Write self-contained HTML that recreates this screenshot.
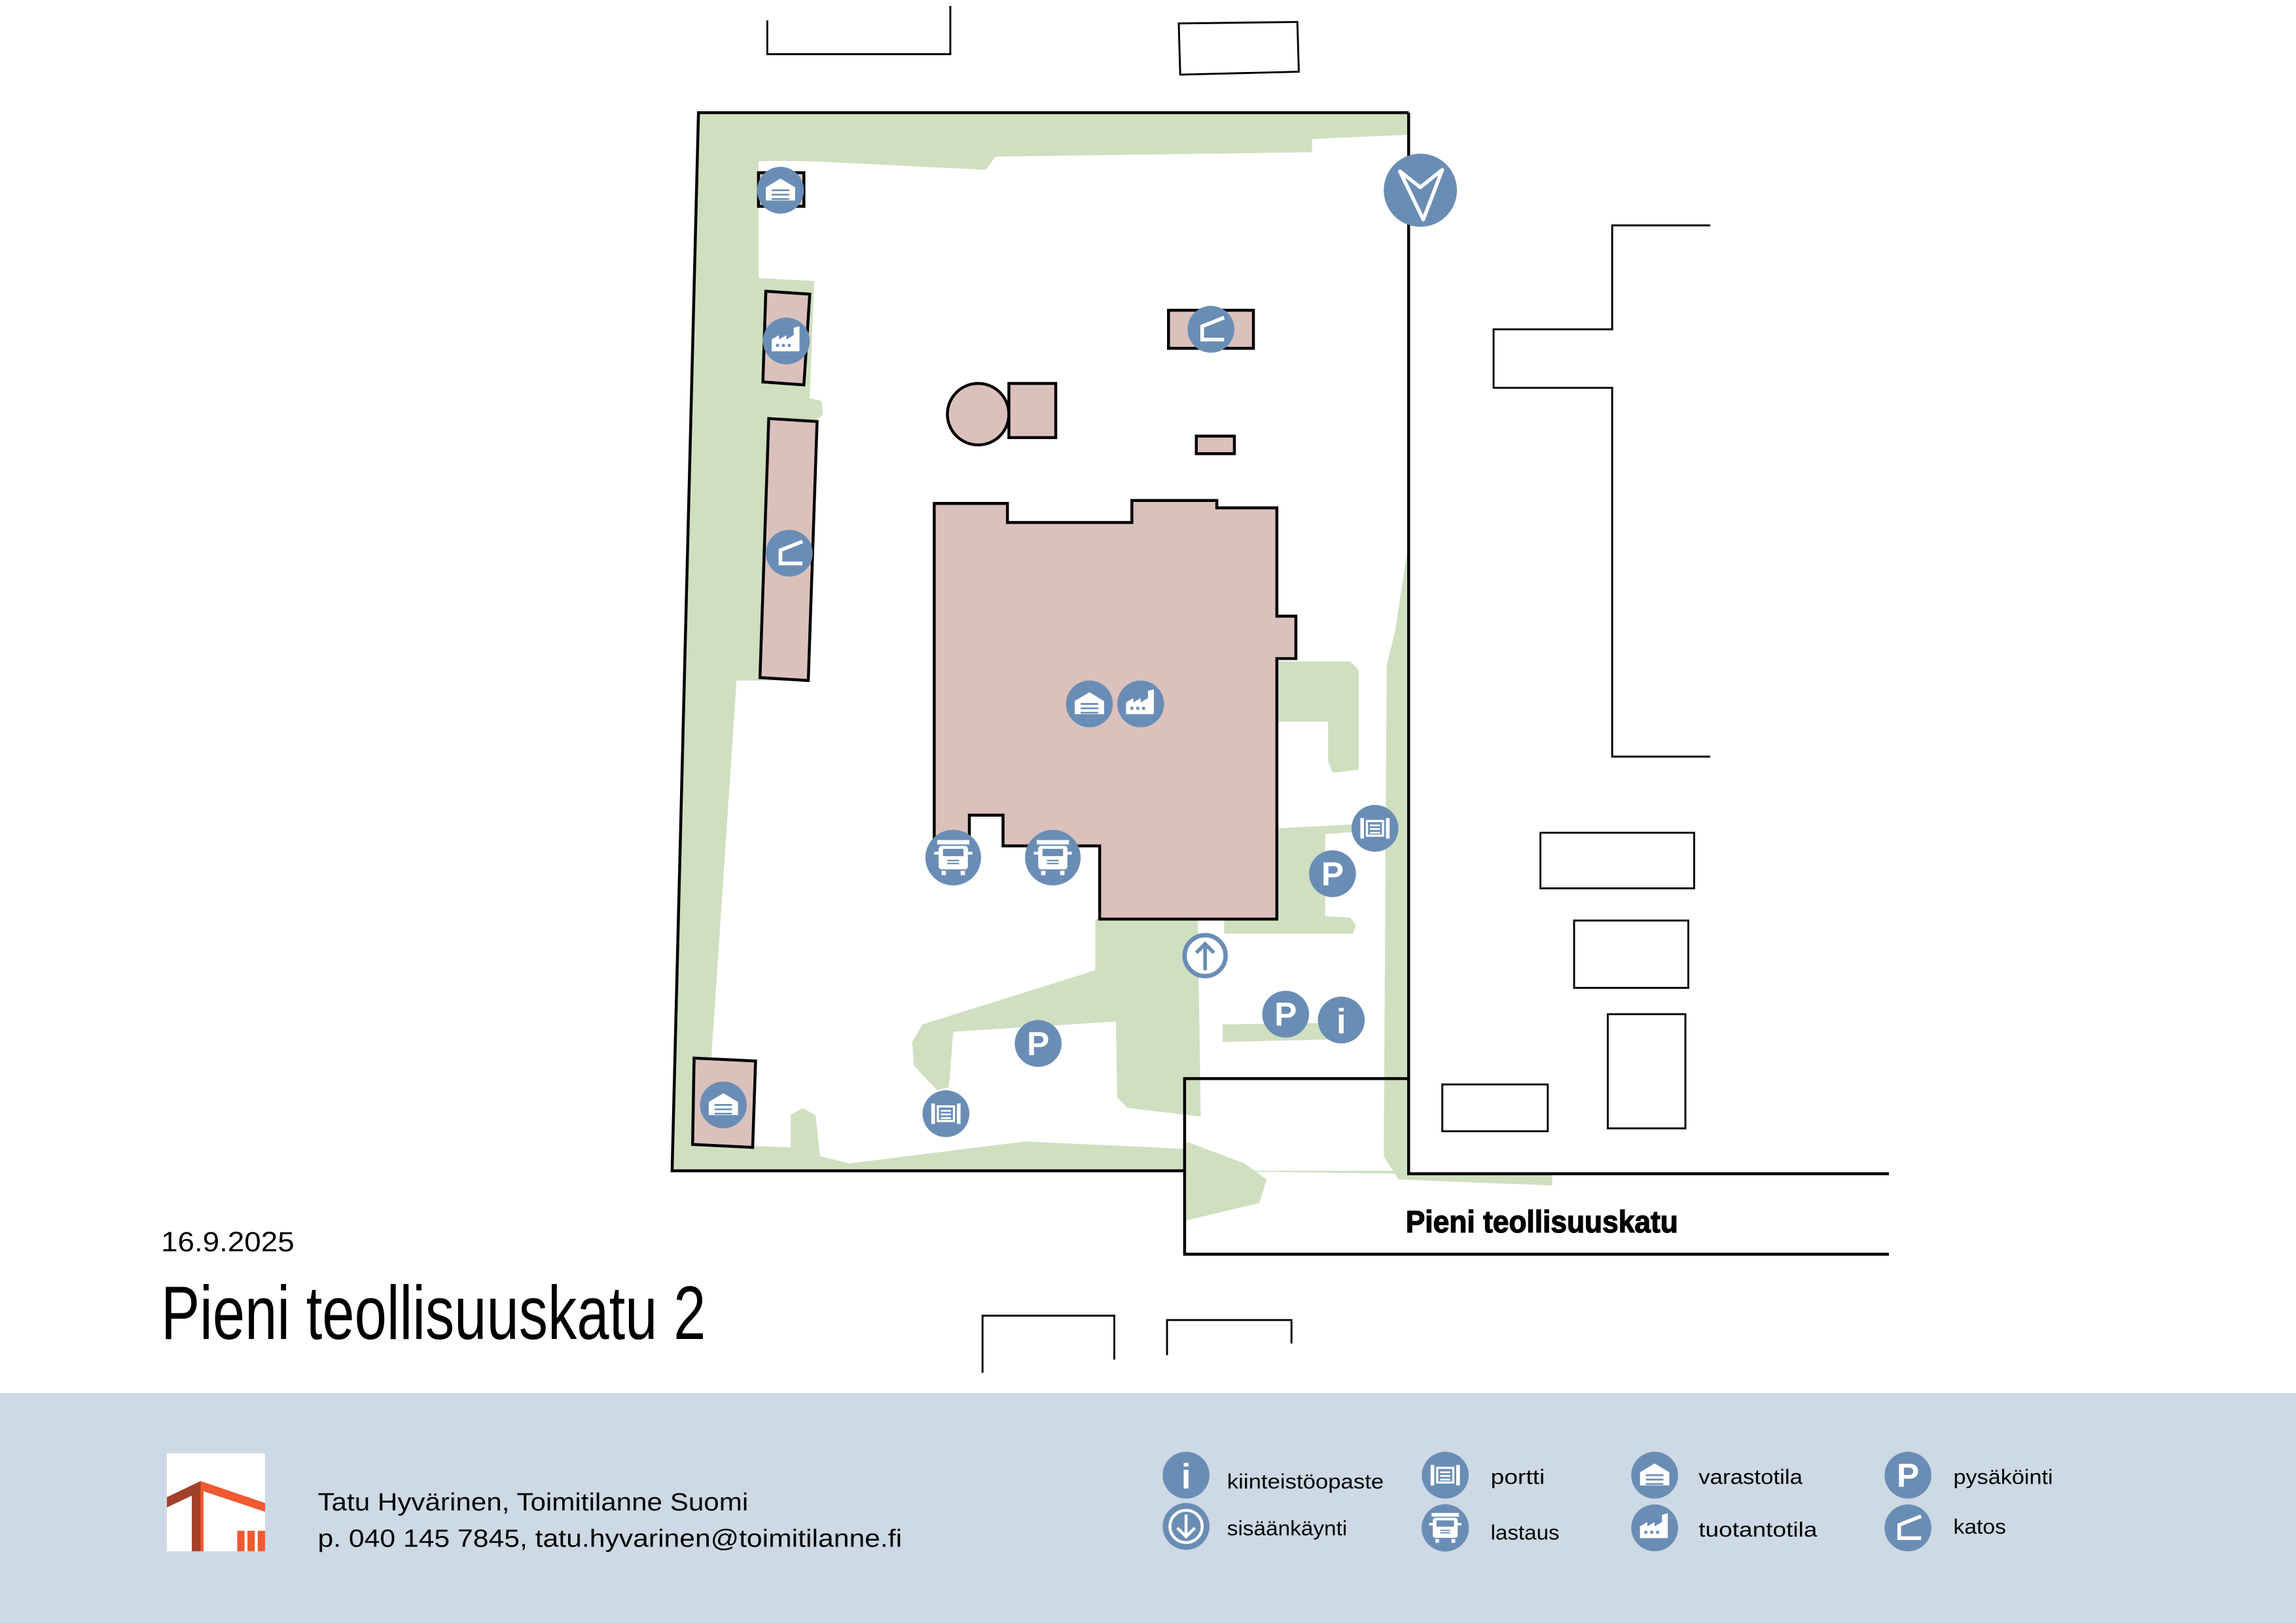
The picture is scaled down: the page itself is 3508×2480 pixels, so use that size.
<!DOCTYPE html>
<html><head><meta charset="utf-8"><style>
html,body{margin:0;padding:0;background:#fff;}
svg{display:block;}
text{font-family:"Liberation Sans",sans-serif;}
</style></head><body>
<svg width="3508" height="2480" viewBox="0 0 1568 1109" preserveAspectRatio="none" xmlns="http://www.w3.org/2000/svg">
<defs>
<g id="ware"><circle r="16" fill="#6a8db5"/><path d="M-10,7 L-10,-2 L0,-8 L10,-2 L10,7 Z" fill="#fff"/><g stroke="#6a8db5" stroke-width="1.2"><line x1="-6" y1="0" x2="6" y2="0"/><line x1="-6" y1="3" x2="6" y2="3"/><line x1="-6" y1="6" x2="6" y2="6"/></g></g>
<g id="fact"><circle r="16" fill="#6a8db5"/><path d="M-10,7 L-10,-1 L-5,-4 L-5,-1 L0,-4 L0,-1 L5,-4 L5,-9 L9,-10 L9,7 Z" fill="#fff"/><g fill="#6a8db5"><rect x="-7" y="2" width="2" height="2"/><rect x="-3" y="2" width="2" height="2"/><rect x="1" y="2" width="2" height="2"/></g></g>
<g id="katos"><circle r="16" fill="#6a8db5"/><path d="M9,-8 L-6,-2 L-6,7 L9,7" fill="none" stroke="#fff" stroke-width="2.5"/></g>
<g id="truck"><circle r="19" fill="#6a8db5"/><rect x="-11" y="-12" width="22" height="3" fill="#fff"/><rect x="-10" y="-8" width="20" height="16" rx="2" fill="#fff"/><rect x="-7" y="-6" width="14" height="5" fill="#6a8db5"/><g stroke="#6a8db5" stroke-width="1"><line x1="-4" y1="2" x2="4" y2="2"/><line x1="-4" y1="4" x2="4" y2="4"/></g><rect x="-8" y="9" width="3" height="3" fill="#fff"/><rect x="5" y="9" width="3" height="3" fill="#fff"/><rect x="-13" y="-4" width="3" height="2" fill="#fff"/><rect x="10" y="-4" width="3" height="2" fill="#fff"/></g>
<g id="gate"><circle r="16" fill="#6a8db5"/><g fill="#fff"><rect x="-10" y="-7" width="2.5" height="14"/><rect x="7.5" y="-7" width="2.5" height="14"/></g><rect x="-5.5" y="-5" width="11" height="10" fill="none" stroke="#fff" stroke-width="1.5"/><g stroke="#fff" stroke-width="1.2"><line x1="-3.5" y1="-2" x2="3.5" y2="-2"/><line x1="-3.5" y1="0.5" x2="3.5" y2="0.5"/><line x1="-3.5" y1="3" x2="3.5" y2="3"/></g></g>
<g id="park"><circle r="16" fill="#6a8db5"/><text x="0" y="8" text-anchor="middle" font-size="23" font-weight="bold" fill="#fff">P</text></g>
<g id="info"><circle r="16" fill="#6a8db5"/><text x="0" y="9" text-anchor="middle" font-size="24" font-weight="bold" fill="#fff">i</text></g>
</defs>

<rect x="0" y="952" width="1568" height="157" fill="#cdd9e4"/>

<polygon points="477,77 962,77 962,802 809,800 459,800" fill="#cfdfc0"/>
<polygon points="518,110 550,110 673,116 680,107 896,104 896,95 962,92 962,800 809,800 809,785 700,780 580,795 560,790 557,762 548,757 540,762 540,784 516,783 486,781 485,735 503,465 553,465 558,287 562,283 561,274 553,272 556,192 518,190" fill="#fff"/>
<polygon points="962,370 953,430 947,455 945,790 955,806 1060,810 1060,802 962,802" fill="#cfdfc0"/>
<polygon points="872,452 922,452 928,458 928,526 910,528 907,520 907,493 872,493" fill="#cfdfc0"/>
<polygon points="872,566 930,563 930,568 905,570 905,626 922,627 926,632 924,638 836,638 836,628 872,628" fill="#cfdfc0"/>
<polygon points="748,628 818,628 820,763 770,757 763,750 762,698 651,705 648,743 640,745 624,728 623,712 630,700 748,663" fill="#cfdfc0"/>
<polygon points="835,700 905,699 918,710 835,712" fill="#cfdfc0"/>
<polygon points="810,780 850,795 865,806 860,822 810,834" fill="#cfdfc0"/>

<g fill="none" stroke="#000" stroke-width="2">
<polyline points="962,77 477,77 459,800 809,800"/>
<polyline points="962,77 962,802 1290,802"/>
<polyline points="962,737 809,737 809,857 1290,857"/>
</g>
<g fill="none" stroke="#000" stroke-width="1.3">
<polyline points="524,14 524,37 649,37 649,4"/>
<polygon points="805,16 886,15 887,49 806,51"/>
<polyline points="1168,154 1101,154 1101,225 1020,225 1020,265 1101,265 1101,517 1168,517"/>
<rect x="1052" y="569" width="105" height="38"/>
<rect x="1075" y="629" width="78" height="46"/>
<rect x="1098" y="693" width="53" height="78"/>
<rect x="985" y="741" width="72" height="32"/>
<polyline points="671,938 671,899 761,899 761,929"/>
<polyline points="797,926 797,902 882,902 882,918"/>
</g>

<g fill="#dbc1bc" stroke="#000" stroke-width="2">
<rect x="518" y="118" width="31" height="23"/>
<polygon points="523,199 553,201 549,263 521,261"/>
<polygon points="525,286 558,288 552,465 519,463"/>
<polygon points="474,723 516,725 514,784 473,782"/>
<ellipse cx="668" cy="283" rx="21" ry="21"/>
<rect x="689" y="262" width="32" height="37"/>
<rect x="798" y="212" width="58" height="26"/>
<rect x="817" y="298" width="26" height="12"/>
<polygon points="638,344 688,344 688,357 773,357 773,342 831,342 831,347 872,347 872,421 885,421 885,450 872,450 872,628 751,628 751,578 685,578 685,557 662,557 662,575 638,575"/>
</g>

<use href="#ware" x="533" y="130"/>
<use href="#fact" x="537" y="233"/>
<use href="#katos" x="539" y="378"/>
<use href="#katos" x="827" y="225"/>
<use href="#ware" x="744" y="481"/>
<use href="#fact" x="779" y="481"/>
<use href="#truck" x="651" y="586"/>
<use href="#truck" x="719" y="586"/>
<use href="#gate" x="939" y="566"/>
<use href="#park" x="910" y="597"/>
<use href="#park" x="878" y="693"/>
<use href="#info" x="916" y="697"/>
<use href="#park" x="709" y="713"/>
<use href="#gate" x="646" y="761"/>
<use href="#ware" x="494" y="755"/>
<g><circle cx="823" cy="653" r="14" fill="#fff" stroke="#6a8db5" stroke-width="3"/><path d="M823,663 L823,645 M817,651 L823,645 L829,651" stroke="#6a8db5" stroke-width="2.5" fill="none"/></g>
<circle cx="970" cy="130" r="25" fill="#6a8db5"/>
<polygon points="956,117 972,150 985,116 970,128" fill="none" stroke="#fff" stroke-width="2.5" stroke-linejoin="round"/>

<text x="960" y="842" font-size="21" font-weight="bold" textLength="186" lengthAdjust="spacingAndGlyphs" fill="#000" stroke="#000" stroke-width="0.6">Pieni teollisuuskatu</text>
<text x="110" y="855" font-size="19" textLength="91" lengthAdjust="spacingAndGlyphs" fill="#000">16.9.2025</text>
<text x="110" y="915" font-size="52" textLength="372" lengthAdjust="spacingAndGlyphs" fill="#000">Pieni teollisuuskatu 2</text>

<rect x="114" y="993" width="67" height="67" fill="#fff"/>
<polygon points="114,1023 137,1012 137,1060 131,1060 131,1022 114,1030" fill="#a3402a"/>
<polygon points="137,1012 181,1027 181,1033 139,1019 139,1060 137,1060" fill="#f05a30"/>
<g fill="#f05a30"><rect x="162" y="1046" width="5" height="14"/><rect x="169" y="1046" width="5" height="14"/><rect x="176" y="1046" width="5" height="14"/></g>

<text x="217" y="1032" font-size="17" textLength="294" lengthAdjust="spacingAndGlyphs" fill="#000">Tatu Hyvärinen, Toimitilanne Suomi</text>
<text x="217" y="1057" font-size="17" textLength="399" lengthAdjust="spacingAndGlyphs" fill="#000">p. 040 145 7845, tatu.hyvarinen@toimitilanne.fi</text>

<use href="#info" x="810" y="1008"/>
<g><circle cx="810" cy="1043" r="16" fill="#6a8db5"/><circle cx="810" cy="1043" r="11" fill="none" stroke="#fff" stroke-width="2"/><path d="M810,1035 L810,1050 M804,1044 L810,1050 L816,1044" stroke="#fff" stroke-width="2" fill="none"/></g>
<use href="#gate" x="987" y="1008"/>
<use href="#truck" x="987" y="1044" transform="translate(987 1044) scale(0.85) translate(-987 -1044)"/>
<use href="#ware" x="1130" y="1008"/>
<use href="#fact" x="1130" y="1044"/>
<use href="#park" x="1303" y="1008"/>
<use href="#katos" x="1303" y="1044"/>
<g font-size="14" fill="#000" lengthAdjust="spacingAndGlyphs">
<text x="838" y="1017" textLength="107" lengthAdjust="spacingAndGlyphs">kiinteistöopaste</text>
<text x="838" y="1049" textLength="82" lengthAdjust="spacingAndGlyphs">sisäänkäynti</text>
<text x="1018" y="1014" textLength="37" lengthAdjust="spacingAndGlyphs">portti</text>
<text x="1018" y="1052" textLength="47" lengthAdjust="spacingAndGlyphs">lastaus</text>
<text x="1160" y="1014" textLength="71" lengthAdjust="spacingAndGlyphs">varastotila</text>
<text x="1160" y="1050" textLength="81" lengthAdjust="spacingAndGlyphs">tuotantotila</text>
<text x="1334" y="1014" textLength="68" lengthAdjust="spacingAndGlyphs">pysäköinti</text>
<text x="1334" y="1048" textLength="36" lengthAdjust="spacingAndGlyphs">katos</text>
</g>
</svg>
</body></html>
